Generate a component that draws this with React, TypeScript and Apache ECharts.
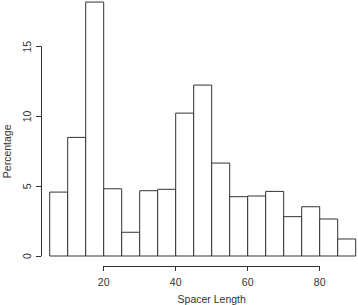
import React, { useEffect, useRef } from "react";
import * as echarts from "echarts";

const binStarts = [5, 10, 15, 20, 25, 30, 35, 40, 45, 50, 55, 60, 65, 70, 75, 80, 85];
const binWidth = 5;
const percentages = [4.58, 8.5, 18.2, 4.82, 1.7, 4.68, 4.78, 10.24, 12.25, 6.66, 4.25, 4.3, 4.63, 2.82, 3.53, 2.65, 1.22];
const yTicks = { min: 0, max: 15, interval: 5 };
const xTicks = { min: 20, max: 80, interval: 20 };
const xTitle = "Spacer Length";
const yTitle = "Percentage";

const FONT = "Liberation Sans, Arial, sans-serif";
const INK = "#333";

export default function App() {
  const ref = useRef<HTMLDivElement>(null);
  useEffect(() => {
    if (!ref.current) return;
    const chart = echarts.init(ref.current, null, { renderer: "svg" });
    const data = binStarts.map((s, i) => [s, s + binWidth, percentages[i]]);
    chart.setOption({
      animation: false,
      backgroundColor: "#fff",
      grid: [
        { left: 49.7, top: 0, width: 306, height: 256 },
        { left: 36.7, top: 46.7, width: 10, height: 209.3 },
        { left: 103.7, top: 256, width: 216, height: 10.7 },
      ],
      xAxis: [
        { gridIndex: 0, type: "value", min: 5, max: 90, show: false },
        { gridIndex: 1, type: "value", show: false },
        {
          gridIndex: 2,
          type: "value",
          min: xTicks.min,
          max: xTicks.max,
          interval: xTicks.interval,
          position: "bottom",
          axisLine: { show: true, lineStyle: { color: INK, width: 1 } },
          axisTick: { show: true, length: 5, lineStyle: { color: INK } },
          splitLine: { show: false },
          axisLabel: { color: INK, fontFamily: FONT, fontSize: 10.5, margin: 10 },
          name: xTitle,
          nameLocation: "middle",
          nameGap: 27,
          nameTextStyle: { color: INK, fontFamily: FONT, fontSize: 10.5 },
        },
      ],
      yAxis: [
        { gridIndex: 0, type: "value", min: 0, max: 256 / 13.953, show: false },
        {
          gridIndex: 1,
          type: "value",
          min: yTicks.min,
          max: yTicks.max,
          interval: yTicks.interval,
          position: "left",
          axisLine: { show: true, lineStyle: { color: INK, width: 1 } },
          axisTick: { show: true, length: 5, lineStyle: { color: INK } },
          splitLine: { show: false },
          axisLabel: { color: INK, fontFamily: FONT, fontSize: 10.5, rotate: 90, margin: 9 },
          name: yTitle,
          nameLocation: "middle",
          nameRotate: 90,
          nameGap: 29,
          nameTextStyle: { color: INK, fontFamily: FONT, fontSize: 10.5 },
        },
        { gridIndex: 2, type: "value", show: false },
      ],
      series: [
        {
          type: "custom",
          xAxisIndex: 0,
          yAxisIndex: 0,
          data,
          renderItem: (params: any, api: any) => {
            const p0 = api.coord([api.value(0), api.value(2)]);
            const p1 = api.coord([api.value(1), 0]);
            return {
              type: "rect",
              shape: { x: p0[0], y: p0[1], width: p1[0] - p0[0], height: p1[1] - p0[1] },
              style: { fill: "#fff", stroke: INK, lineWidth: 1 },
            };
          },
        },
      ],
    });
    return () => chart.dispose();
  }, []);
  return (
    <div
      ref={ref}
      style={{ position: "fixed", left: 0, top: 0, width: 358, height: 305 }}
    />
  );
}
